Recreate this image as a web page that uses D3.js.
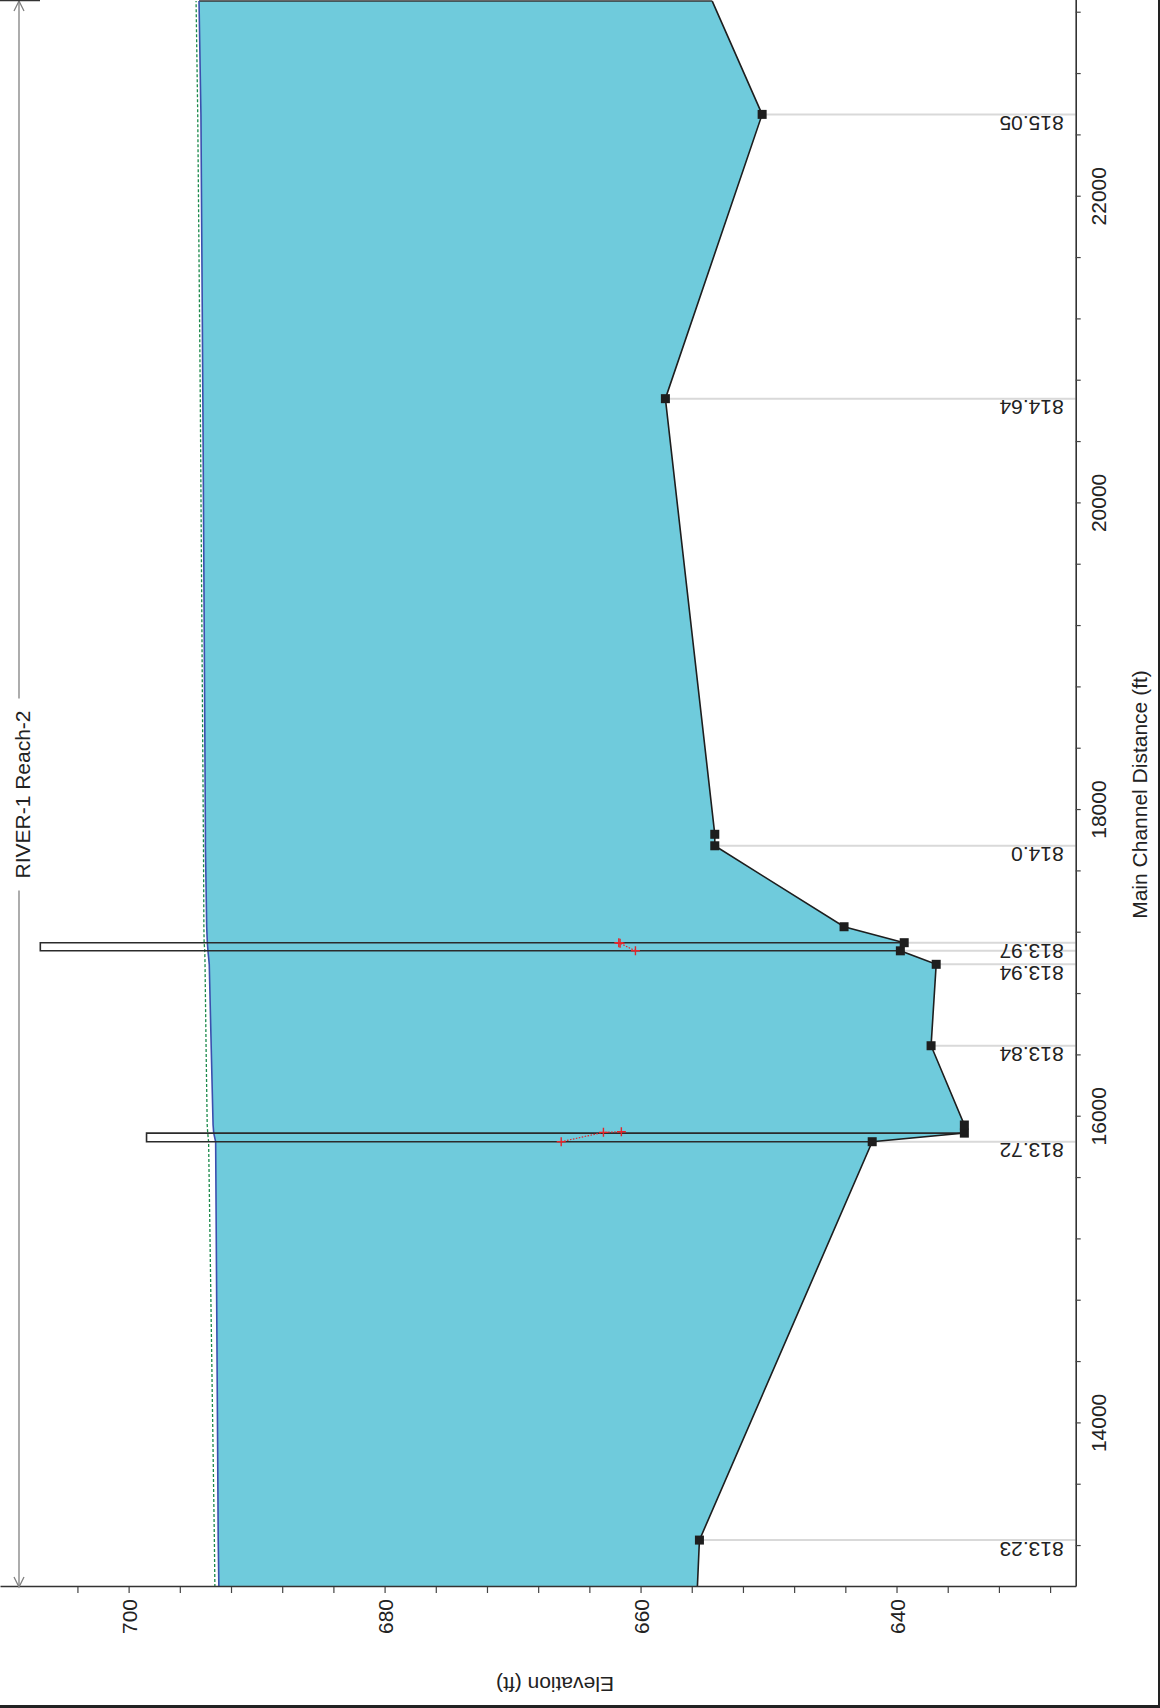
<!DOCTYPE html>
<html>
<head>
<meta charset="utf-8">
<script src="https://cdn.jsdelivr.net/npm/d3@7"></script>
<style>
  body { margin: 0; background: #fff; }
  svg { display: block; }
  text { font-family: "Liberation Sans", Arial, sans-serif; fill: #222; }
</style>
</head>
<body>
<svg id="chart" width="1160" height="1708"></svg>
<script>
// ---- Profile data (main channel distance in ft, elevations in ft) ----
const stations   = [12933, 13239, 15837, 15893, 15946, 16463, 16994, 17082, 17135, 17239, 17767, 17842, 20683, 22537, 23276];
const groundElev = [655.56, 655.4, 641.9, 634.7, 634.7, 637.3, 636.9, 639.7, 639.4, 644.1, 654.2, 654.2, 658.06, 650.5, 654.4];
const wsElev     = [692.95, 693.0, 693.2, 693.35, 693.4, 693.55, 693.7, 693.8, 693.85, 693.9, 694.0, 694.0, 694.2, 694.35, 694.5];
const egElev     = [693.26, 693.3, 693.75, 693.82, 693.86, 693.95, 694.03, 694.05, 694.1, 694.12, 694.15, 694.16, 694.4, 694.6, 694.73];

// Surveyed cross sections shown with a point marker
const markedStations = [13239, 15837, 15893, 15946, 16463, 16994, 17082, 17135, 17239, 17767, 17842, 20683, 22537];
// Cross sections with a reference line to the distance axis
const sectionLineStations = [13239, 15837, 16463, 16994, 17082, 17135, 17767, 20683, 22537];
// River station labels
const rsLabels        = ["813.23", "813.72", "813.84", "813.94", "813.97", "814.0", "814.64", "815.05"];
const rsLabelStations = [13239, 15837, 16463, 16994, 17135, 17767, 20683, 22537];

// Structures: downstream / upstream faces and top-of-deck elevation
const deckFaces = [[15837, 15893], [17082, 17135]];
const deckTop   = [698.6, 706.9];

// Critical depth points at the structures
const critStations = [[17082, 17131, 17135], [15837, 15898, 15902]];
const critElev     = [[660.4, 661.6, 661.7], [666.2, 662.9, 661.5]];

// Axes
const distanceDomain  = [12933, 23283];
const elevationDomain = [626, 710.05];
const distTicks  = [13200, 13600, 14000, 14400, 14800, 15200, 15600, 16000, 16400, 16800, 17200, 17600,
                    18000, 18400, 18800, 19200, 19600, 20000, 20400, 20800, 21200, 21600, 22000, 22400, 22800, 23200];
const distLabels = [14000, 16000, 18000, 20000, 22000];
const elevTicks  = [628, 632, 636, 640, 644, 648, 652, 656, 660, 664, 668, 672, 676, 680, 684, 688, 692, 696, 700, 704];
const elevLabels = [640, 660, 680, 700];

const titleText = "RIVER-1 Reach-2";
const xTitle = "Main Channel Distance (ft)";
const yTitle = "Elevation (ft)";

// ---- Layout ----
const W = 1160, H = 1708;
const svg = d3.select("#chart");
const FONT = 21;

// The profile is laid out in landscape space and turned a quarter turn
const g = svg.append("g").attr("transform", `translate(0,${H}) rotate(-90)`);
const plot = { left: 121, right: 1708, top: 0, bottom: 1075.7 };

const x = d3.scaleLinear().domain(distanceDomain).range([plot.left, plot.right]);
const y = d3.scaleLinear().domain(elevationDomain).range([plot.bottom, plot.top]);

svg.append("defs").append("clipPath").attr("id", "plotClip")
  .append("rect")
  .attr("x", plot.left).attr("y", plot.top)
  .attr("width", plot.right - plot.left).attr("height", plot.bottom - plot.top);

const rows = stations.map((s, i) => ({ s, gr: groundElev[i], ws: wsElev[i], eg: egElev[i] }));
const groundAt = s => groundElev[stations.indexOf(s)];

const body = g.append("g").attr("clip-path", "url(#plotClip)");

// Reference lines from the channel bottom to the distance axis
body.append("g").selectAll("line")
  .data(sectionLineStations)
  .join("line")
  .attr("x1", d => x(d)).attr("x2", d => x(d))
  .attr("y1", d => y(groundAt(d))).attr("y2", plot.bottom)
  .attr("stroke", "#d9d9d9").attr("stroke-width", 2);

// Water between ground and water surface
body.append("path")
  .datum(rows)
  .attr("d", d3.area().x(d => x(d.s)).y0(d => y(d.gr)).y1(d => y(d.ws)))
  .attr("fill", "#6fcbdc");

// Upstream boundary of the water body
const last = rows[rows.length - 1];
body.append("line")
  .attr("x1", x(last.s)).attr("x2", x(last.s))
  .attr("y1", y(last.ws)).attr("y2", y(last.gr))
  .attr("stroke", "#333").attr("stroke-width", 1.5);

// Energy grade line
body.append("path")
  .datum(rows)
  .attr("d", d3.line().x(d => x(d.s)).y(d => y(d.eg)))
  .attr("fill", "none").attr("stroke", "#1a8a4a")
  .attr("stroke-width", 1.3).attr("stroke-dasharray", "3,2");

// Water surface
body.append("path")
  .datum(rows)
  .attr("d", d3.line().x(d => x(d.s)).y(d => y(d.ws)))
  .attr("fill", "none").attr("stroke", "#3b4fae").attr("stroke-width", 1.6);

// Structure outlines
body.append("g").selectAll("path")
  .data(deckFaces)
  .join("path")
  .attr("d", (f, i) => {
    const p = d3.path();
    p.moveTo(x(f[0]), y(groundAt(f[0])));
    p.lineTo(x(f[0]), y(deckTop[i]));
    p.lineTo(x(f[1]), y(deckTop[i]));
    p.lineTo(x(f[1]), y(groundAt(f[1])));
    return p.toString();
  })
  .attr("fill", "none").attr("stroke", "#2b2b2b").attr("stroke-width", 1.6);

// Ground profile
body.append("path")
  .datum(rows)
  .attr("d", d3.line().x(d => x(d.s)).y(d => y(d.gr)))
  .attr("fill", "none").attr("stroke", "#1e1e1e").attr("stroke-width", 1.6);

// Critical depth points with their connecting line
critStations.forEach((ss, k) => {
  const pts = ss.map((s, i) => [x(s), y(critElev[k][i])]);
  body.append("path")
    .attr("d", d3.line()(pts))
    .attr("fill", "none").attr("stroke", "#e3262b")
    .attr("stroke-width", 1.2).attr("stroke-dasharray", "1.5,1.5");
  body.append("g").selectAll("path")
    .data(pts)
    .join("path")
    .attr("d", p => `M${p[0] - 4.5},${p[1]}H${p[0] + 4.5}M${p[0]},${p[1] - 4.5}V${p[1] + 4.5}`)
    .attr("stroke", "#e3262b").attr("stroke-width", 1.4);
});

// Cross section markers
body.append("g").selectAll("rect")
  .data(markedStations)
  .join("rect")
  .attr("x", d => x(d) - 4.5).attr("y", d => y(groundAt(d)) - 4.5)
  .attr("width", 9).attr("height", 9)
  .attr("fill", "#1e1e1e");

// River station labels
g.append("g").selectAll("text")
  .data(rsLabels)
  .join("text")
  .attr("transform", (d, i) => `translate(${x(rsLabelStations[i]) - 1.5},${plot.bottom - 12}) rotate(-90)`)
  .attr("text-anchor", "start")
  .attr("font-size", FONT)
  .text(d => d);

// ---- Axes ----
const yAxis = g.append("g")
  .attr("transform", `translate(${plot.left},0)`)
  .call(d3.axisLeft(y).tickValues(elevTicks).tickSize(6).tickSizeOuter(0)
    .tickFormat(d => elevLabels.includes(d) ? d : ""));
yAxis.selectAll("text").attr("x", -12).attr("dy", "0.37em")
  .attr("font-size", FONT).attr("font-family", "Liberation Sans, Arial, sans-serif").attr("fill", "#222");

const xAxis = g.append("g")
  .attr("transform", `translate(0,${plot.bottom})`)
  .call(d3.axisBottom(x).tickValues(distTicks).tickSize(5).tickSizeOuter(0)
    .tickFormat(d => distLabels.includes(d) ? d : ""));
xAxis.selectAll("text").attr("y", 30.5).attr("dy", 0)
  .attr("font-size", FONT).attr("font-family", "Liberation Sans, Arial, sans-serif").attr("fill", "#222");

[yAxis, xAxis].forEach(a => {
  a.select(".domain").attr("stroke", "#333").attr("stroke-width", 1.6);
  a.selectAll(".tick line").attr("stroke", "#444").attr("stroke-width", 1.2);
});

// Axis titles
g.append("text")
  .attr("x", (plot.left + 1706) / 2 + 0).attr("y", plot.bottom + 71.5)
  .attr("text-anchor", "middle").attr("font-size", FONT)
  .text(xTitle);

g.append("text")
  .attr("transform", `translate(31,555) rotate(-90)`)
  .attr("text-anchor", "middle").attr("font-size", FONT)
  .text(yTitle);

// ---- Reach extent arrow with title ----
const arrowY = 19, titleX = 913.5, gapHalf = 96;
const reachStart = x(distanceDomain[0]), reachEnd = x(stations[stations.length - 1]);
const arrow = g.append("g").attr("stroke", "#808080").attr("stroke-width", 1.3).attr("fill", "none");
arrow.append("line").attr("x1", reachStart).attr("x2", titleX - gapHalf).attr("y1", arrowY).attr("y2", arrowY);
arrow.append("line").attr("x1", titleX + gapHalf).attr("x2", reachEnd).attr("y1", arrowY).attr("y2", arrowY);
arrow.append("path").attr("d", `M${reachStart + 10},${arrowY - 5}L${reachStart},${arrowY}L${reachStart + 10},${arrowY + 5}`);
arrow.append("path").attr("d", `M${reachEnd - 10},${arrowY - 5}L${reachEnd},${arrowY}L${reachEnd - 10},${arrowY + 5}`);
g.append("line")
  .attr("x1", reachEnd + 0.5).attr("x2", reachEnd + 0.5).attr("y1", 0).attr("y2", 40)
  .attr("stroke", "#333").attr("stroke-width", 1.6);

g.append("text")
  .attr("x", titleX).attr("y", 29.5)
  .attr("text-anchor", "middle").attr("font-size", FONT)
  .text(titleText);

// Page frame
svg.append("rect").attr("x", 0).attr("y", H - 3).attr("width", W).attr("height", 3).attr("fill", "#222");
svg.append("rect").attr("x", W - 2).attr("y", 0).attr("width", 2).attr("height", H).attr("fill", "#222");
</script>
</body>
</html>
